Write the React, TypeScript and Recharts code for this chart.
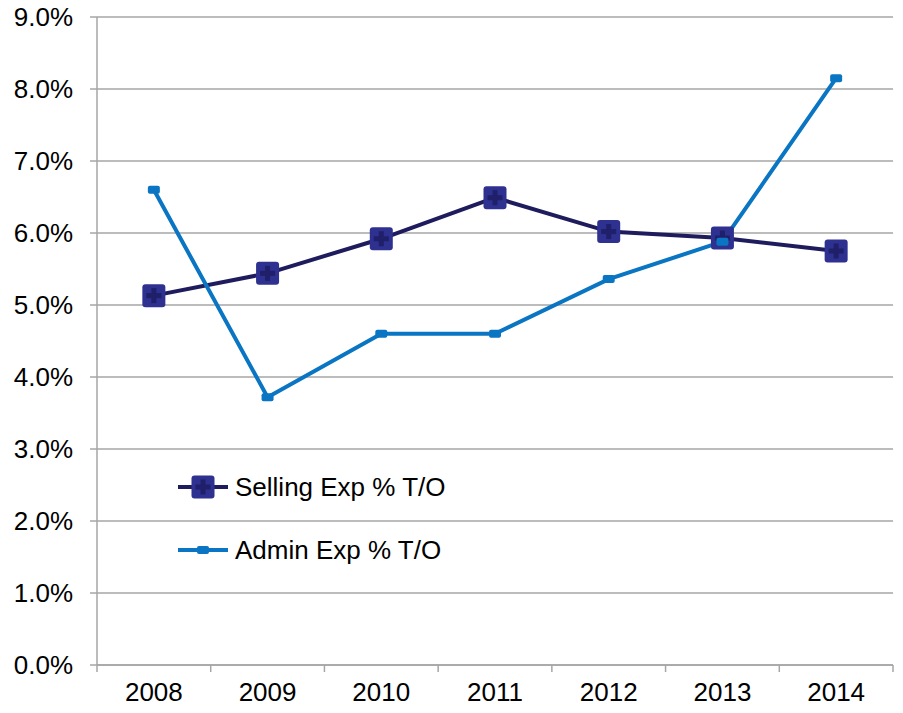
import React from "react";
import { LineChart, Line, XAxis, YAxis, CartesianGrid } from "recharts";

const years = ["2008", "2009", "2010", "2011", "2012", "2013", "2014"];
const sellingExp = [0.0513, 0.0544, 0.0592, 0.0649, 0.0602, 0.0593, 0.0575];
const adminExp = [0.066, 0.0372, 0.046, 0.046, 0.0536, 0.0588, 0.0815];
const yTicks = [0, 0.01, 0.02, 0.03, 0.04, 0.05, 0.06, 0.07, 0.08, 0.09];

const data = years.map((y, i) => ({ year: y, selling: sellingExp[i], admin: adminExp[i] }));

const NAVY = "#1f1c5e";
const NAVY_FILL = "#2e3190";
const NAVY_PLUS = "#1f1f6a";
const BLUE = "#0a75c2";
const GRID = "#a6a6a6";
const FONT = "Liberation Sans, Arial, sans-serif";

const SellingDot = (props: any) => {
  const { cx, cy } = props;
  if (cx == null || cy == null) return null;
  return (
    <g>
      <rect x={cx - 11.5} y={cy - 11.5} width={23} height={23} rx={3} fill={NAVY_FILL} />
      <rect x={cx - 2.5} y={cy - 7.5} width={5} height={15} fill={NAVY_PLUS} />
      <rect x={cx - 7.5} y={cy - 2.5} width={15} height={5} fill={NAVY_PLUS} />
    </g>
  );
};

const AdminDot = (props: any) => {
  const { cx, cy } = props;
  if (cx == null || cy == null) return null;
  return <rect x={cx - 6} y={cy - 4} width={12} height={8} rx={2} fill={BLUE} />;
};

const BAND = 796 / years.length;

const XTick = (props: any) => {
  const { x, y, payload, index } = props;
  return (
    <g>
      <line x1={x - BAND / 2} y1={y - 8} x2={x - BAND / 2} y2={y - 1} stroke={GRID} strokeWidth={1.5} />
      {index === years.length - 1 && (
        <line x1={x + BAND / 2} y1={y - 8} x2={x + BAND / 2} y2={y - 1} stroke={GRID} strokeWidth={1.5} />
      )}
      <text x={x} y={y + 28} textAnchor="middle" fontSize={26} fontFamily={FONT} fill="#000">
        {payload.value}
      </text>
    </g>
  );
};

const LegendBox = () => (
  <svg width={320} height={110} style={{ position: "absolute", left: 178, top: 460 }}>
    <line x1={0} y1={27} x2={50} y2={27} stroke={NAVY} strokeWidth={4} />
    <SellingDot cx={25} cy={27} />
    <text x={57} y={36} fontSize={26} fontFamily={FONT} fill="#000">Selling Exp % T/O</text>
    <line x1={0} y1={90} x2={50} y2={90} stroke={BLUE} strokeWidth={4} />
    <AdminDot cx={25} cy={90} />
    <text x={57} y={99} fontSize={26} fontFamily={FONT} fill="#000">Admin Exp % T/O</text>
  </svg>
);

export default function App() {
  return (
    <div style={{ position: "absolute", left: 0, top: 0, width: 903, height: 713, background: "#fff" }}>
      <LineChart width={903} height={713} data={data} margin={{ top: 17, right: 10, bottom: 0, left: 0 }}>
        <CartesianGrid vertical={false} stroke={GRID} strokeWidth={1.5} />
        <XAxis
          dataKey="year"
          height={48}
          padding={{ left: BAND / 2, right: BAND / 2 }}
          axisLine={{ stroke: GRID, strokeWidth: 1.5 }}
          tickLine={false}
          tick={<XTick />}
          interval={0}
        />
        <YAxis
          width={97}
          domain={[0, 0.09]}
          ticks={yTicks}
          tickFormatter={(v: number) => (v * 100).toFixed(1) + "%"}
          axisLine={{ stroke: GRID, strokeWidth: 1.5 }}
          tickLine={{ stroke: GRID, strokeWidth: 1.5 }}
          tickSize={7}
          tickMargin={17}
          tick={{ fontSize: 26, fontFamily: FONT, fill: "#000" }}
        />
        <Line
          dataKey="selling"
          stroke={NAVY}
          strokeWidth={4}
          dot={<SellingDot />}
          activeDot={false}
          isAnimationActive={false}
        />
        <Line
          dataKey="admin"
          stroke={BLUE}
          strokeWidth={4}
          dot={<AdminDot />}
          activeDot={false}
          isAnimationActive={false}
        />
      </LineChart>
      <LegendBox />
    </div>
  );
}
